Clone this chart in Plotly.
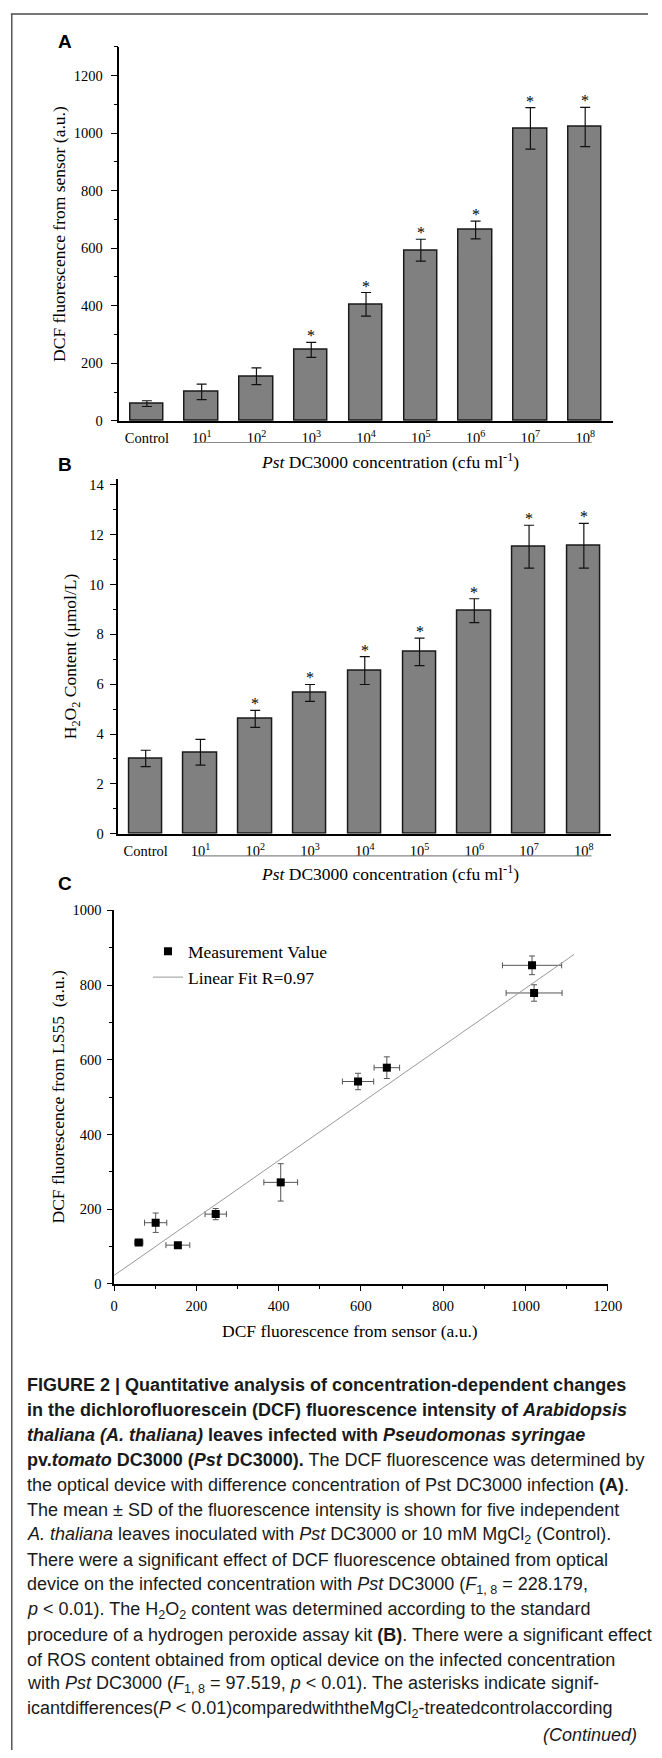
import plotly.graph_objects as go

W, H = 662, 1758


def px(x):
    return x / W


def py(y):
    return 1 - y / H


# ---------------- data ----------------
categories = ["Control", "10<sup>1</sup>", "10<sup>2</sup>", "10<sup>3</sup>", "10<sup>4</sup>",
              "10<sup>5</sup>", "10<sup>6</sup>", "10<sup>7</sup>", "10<sup>8</sup>"]
dcf_sensor_mean = [60, 101, 155, 247, 405, 593, 663, 1016, 1021]
dcf_sensor_sd = [10, 27, 29, 26, 41, 38, 31, 72, 68]
dcf_sig = [False, False, False, True, True, True, True, True, True]

h2o2_mean = [3.02, 3.27, 4.61, 5.65, 6.55, 7.30, 8.95, 11.52, 11.56]
h2o2_sd = [0.33, 0.52, 0.34, 0.34, 0.56, 0.55, 0.48, 0.86, 0.90]
h2o2_sig = [False, False, True, True, True, True, True, True, True]

ls55_mean = [111, 164, 104, 187, 272, 542, 579, 853, 779]
ls55_sd = [4, 26, 4, 15, 50, 22, 29, 25, 22]

fit_x = [0, 1118]
fit_y = [23, 882]

y_ticks_a = [0, 200, 400, 600, 800, 1000, 1200]
y_ticks_b = [0, 2, 4, 6, 8, 10, 12, 14]
ticks_c_x = [0, 200, 400, 600, 800, 1000, 1200]
ticks_c_y = [0, 200, 400, 600, 800, 1000]

SERIF = "Liberation Serif, Times New Roman, serif"
SANS = "Liberation Sans, Arial, sans-serif"

fig = go.Figure()
idx = list(range(len(categories)))

bar_style = dict(color="#808080", line=dict(color="#1a1a1a", width=1.5))

fig.add_trace(go.Bar(x=idx, y=dcf_sensor_mean, width=0.61, marker=bar_style,
                     error_y=dict(type="data", array=dcf_sensor_sd, color="#111", thickness=1.2, width=5),
                     xaxis="x", yaxis="y", showlegend=False))
fig.add_trace(go.Bar(x=idx, y=h2o2_mean, width=0.61, marker=bar_style,
                     error_y=dict(type="data", array=h2o2_sd, color="#111", thickness=1.2, width=5),
                     xaxis="x2", yaxis="y2", showlegend=False))

fig.add_trace(go.Scatter(x=dcf_sensor_mean, y=ls55_mean, mode="markers", name="Measurement Value",
                         marker=dict(symbol="square", size=8, color="black"),
                         error_x=dict(type="data", array=dcf_sensor_sd, color="#555", thickness=1, width=3),
                         error_y=dict(type="data", array=ls55_sd, color="#555", thickness=1, width=3),
                         xaxis="x3", yaxis="y3"))
fig.add_trace(go.Scatter(x=fit_x, y=fit_y, mode="lines", name="Linear Fit R=0.97",
                         line=dict(color="#999999", width=1),
                         xaxis="x3", yaxis="y3"))

axis_common = dict(showline=True, linecolor="black", linewidth=1.5, showgrid=False, zeroline=False,
                   tickfont=dict(family=SERIF, size=14.5, color="black"), tickcolor="black")

fig.update_layout(
    xaxis=dict(domain=[px(118.7), px(625.6)], range=[-0.5, 8.5], anchor="y",
               tickmode="array", tickvals=idx, ticktext=categories, ticks="",
               ticklabelstandoff=3, **axis_common),
    yaxis=dict(domain=[py(416.7), py(39)], range=[0, 1300], anchor="x",
               tickmode="array", tickvals=y_ticks_a, ticks="outside", ticklen=7, tickwidth=1.2,
               ticklabelstandoff=5,
               minor=dict(ticks="outside", ticklen=4, dtick=100, tick0=0, tickcolor="black", showgrid=False),
               **axis_common),
    xaxis2=dict(domain=[px(117.5), px(624.2)], range=[-0.5, 8.5], anchor="y2",
                tickmode="array", tickvals=idx, ticktext=categories, ticks="",
                ticklabelstandoff=3, **axis_common),
    yaxis2=dict(domain=[py(833.3), py(475)], range=[0, 14.25], anchor="x2",
                tickmode="array", tickvals=y_ticks_b, ticks="outside", ticklen=7, tickwidth=1.2,
                ticklabelstandoff=3,
                minor=dict(ticks="outside", ticklen=4, dtick=1, tick0=0, tickcolor="black", showgrid=False),
                **axis_common),
    xaxis3=dict(domain=[px(113.2), px(620.6)], range=[0, 1200], anchor="y3",
                tickmode="array", tickvals=ticks_c_x, ticks="outside", ticklen=5, tickwidth=1.2,
                ticklabelstandoff=3,
                minor=dict(ticks="outside", ticklen=3, dtick=100, tick0=0, tickcolor="black", showgrid=False),
                **axis_common),
    yaxis3=dict(domain=[py(1287.7), py(910.7)], range=[0, 1000], anchor="x3",
                tickmode="array", tickvals=ticks_c_y, ticks="outside", ticklen=5, tickwidth=1.2,
                ticklabelstandoff=3,
                minor=dict(ticks="outside", ticklen=3, dtick=100, tick0=0, tickcolor="black", showgrid=False),
                **axis_common),
)

ann = []
star_font = dict(family=SERIF, size=16, color="black")
for i, (m, s, sig) in enumerate(zip(dcf_sensor_mean, dcf_sensor_sd, dcf_sig)):
    if sig:
        ann.append(dict(x=i, y=m + s, xref="x", yref="y", text="*", showarrow=False,
                        yanchor="bottom", yshift=-4, font=star_font))
for i, (m, s, sig) in enumerate(zip(h2o2_mean, h2o2_sd, h2o2_sig)):
    if sig:
        ann.append(dict(x=i, y=m + s, xref="x2", yref="y2", text="*", showarrow=False,
                        yanchor="bottom", yshift=-4, font=star_font))

title_font = dict(family=SERIF, size=17.5, color="black")
xtitle = "<i>Pst</i> DC3000 concentration (cfu ml<sup>-1</sup>)"
ann.append(dict(x=px(397), y=py(456.7), xref="paper", yref="paper", text=xtitle, showarrow=False,
                xanchor="center", yanchor="middle", font=title_font))
ann.append(dict(x=px(397), y=py(873.3), xref="paper", yref="paper", text=xtitle, showarrow=False,
                xanchor="center", yanchor="middle", font=title_font))
ann.append(dict(x=px(355.5), y=py(1335), xref="paper", yref="paper",
                text="DCF fluorescence from sensor (a.u.)", showarrow=False,
                xanchor="center", yanchor="middle", font=title_font))
ann.append(dict(x=px(56.5), y=py(228), xref="paper", yref="paper", textangle=-90,
                text="DCF fluorescence from sensor (a.u.)", showarrow=False,
                xanchor="center", yanchor="middle", font=title_font))
ann.append(dict(x=px(69), y=py(654), xref="paper", yref="paper", textangle=-90,
                text="H<sub>2</sub>O<sub>2</sub> Content (μmol/L)", showarrow=False,
                xanchor="center", yanchor="middle", font=title_font))
ann.append(dict(x=px(56), y=py(1099), xref="paper", yref="paper", textangle=-90,
                text="DCF fluorescence from LS55  (a.u.)", showarrow=False,
                xanchor="center", yanchor="middle", font=title_font))

for letter, yy in [("A", 34), ("B", 461), ("C", 884)]:
    ann.append(dict(x=px(53), y=py(yy), xref="paper", yref="paper", text="<b>%s</b>" % letter,
                    showarrow=False, xanchor="left", yanchor="middle",
                    font=dict(family=SANS, size=19, color="black")))

caption_lines = [
    "<b>FIGURE 2 | Quantitative analysis of concentration-dependent changes</b>",
    "<b>in the dichlorofluorescein (DCF) fluorescence intensity of <i>Arabidopsis</i></b>",
    "<b><i>thaliana (A. thaliana)</i> leaves infected with <i>Pseudomonas syringae</i></b>",
    "<b>pv.<i>tomato</i> DC3000 (<i>Pst</i> DC3000).</b> The DCF fluorescence was determined by",
    "the optical device with difference concentration of Pst DC3000 infection <b>(A)</b>.",
    "The mean ± SD of the fluorescence intensity is shown for five independent",
    "<i>A. thaliana</i> leaves inoculated with <i>Pst</i> DC3000 or 10 mM MgCl<sub>2</sub> (Control).",
    "There were a significant effect of DCF fluorescence obtained from optical",
    "device on the infected concentration with <i>Pst</i> DC3000 (<i>F</i><sub>1, 8</sub> = 228.179,",
    "<i>p</i> &lt; 0.01). The H<sub>2</sub>O<sub>2</sub> content was determined according to the standard",
    "procedure of a hydrogen peroxide assay kit <b>(B)</b>. There were a significant effect",
    "of ROS content obtained from optical device on the infected concentration",
    "with <i>Pst</i> DC3000 (<i>F</i><sub>1, 8</sub> = 97.519, <i>p</i> &lt; 0.01). The asterisks indicate signif-",
    "icantdifferences(<i>P</i> &lt; 0.01)comparedwiththeMgCl<sub>2</sub>-treatedcontrolaccording",
]
cap_font = dict(family=SANS, size=18, color="#1a1a1a")
for k, line in enumerate(caption_lines):
    ann.append(dict(x=px(22), y=py(1390 + k * 25.2), xref="paper", yref="paper", text=line,
                    showarrow=False, xanchor="left", yanchor="middle", font=cap_font))
ann.append(dict(x=px(653), y=py(1390 + 14 * 25.2), xref="paper", yref="paper", text="<i>(Continued)</i>",
                showarrow=False, xanchor="right", yanchor="middle", font=cap_font))

shapes = [
    dict(type="line", xref="x", yref="paper", x0=0.9, x1=8.12, y0=py(438.5), y1=py(438.5),
         line=dict(color="#888", width=1.2)),
    dict(type="line", xref="x2", yref="paper", x0=0.92, x1=8.14, y0=py(855.7), y1=py(855.7),
         line=dict(color="#888", width=1.2)),
    dict(type="line", xref="paper", yref="paper", x0=px(7), x1=1, y0=py(6), y1=py(6),
         line=dict(color="#777", width=2)),
    dict(type="line", xref="paper", yref="paper", x0=px(8), x1=px(8), y0=py(6), y1=0,
         line=dict(color="#555", width=1.5)),
]

fig.update_layout(
    width=W, height=H, margin=dict(l=0, r=0, t=0, b=0),
    paper_bgcolor="white", plot_bgcolor="white",
    annotations=ann, shapes=shapes, bargap=0,
    legend=dict(x=px(148), y=py(934), xanchor="left", yanchor="top",
                font=dict(family=SERIF, size=17.5, color="black"),
                bgcolor="rgba(0,0,0,0)", tracegroupgap=0, itemwidth=30),
)

fig.write_html("out.html")
